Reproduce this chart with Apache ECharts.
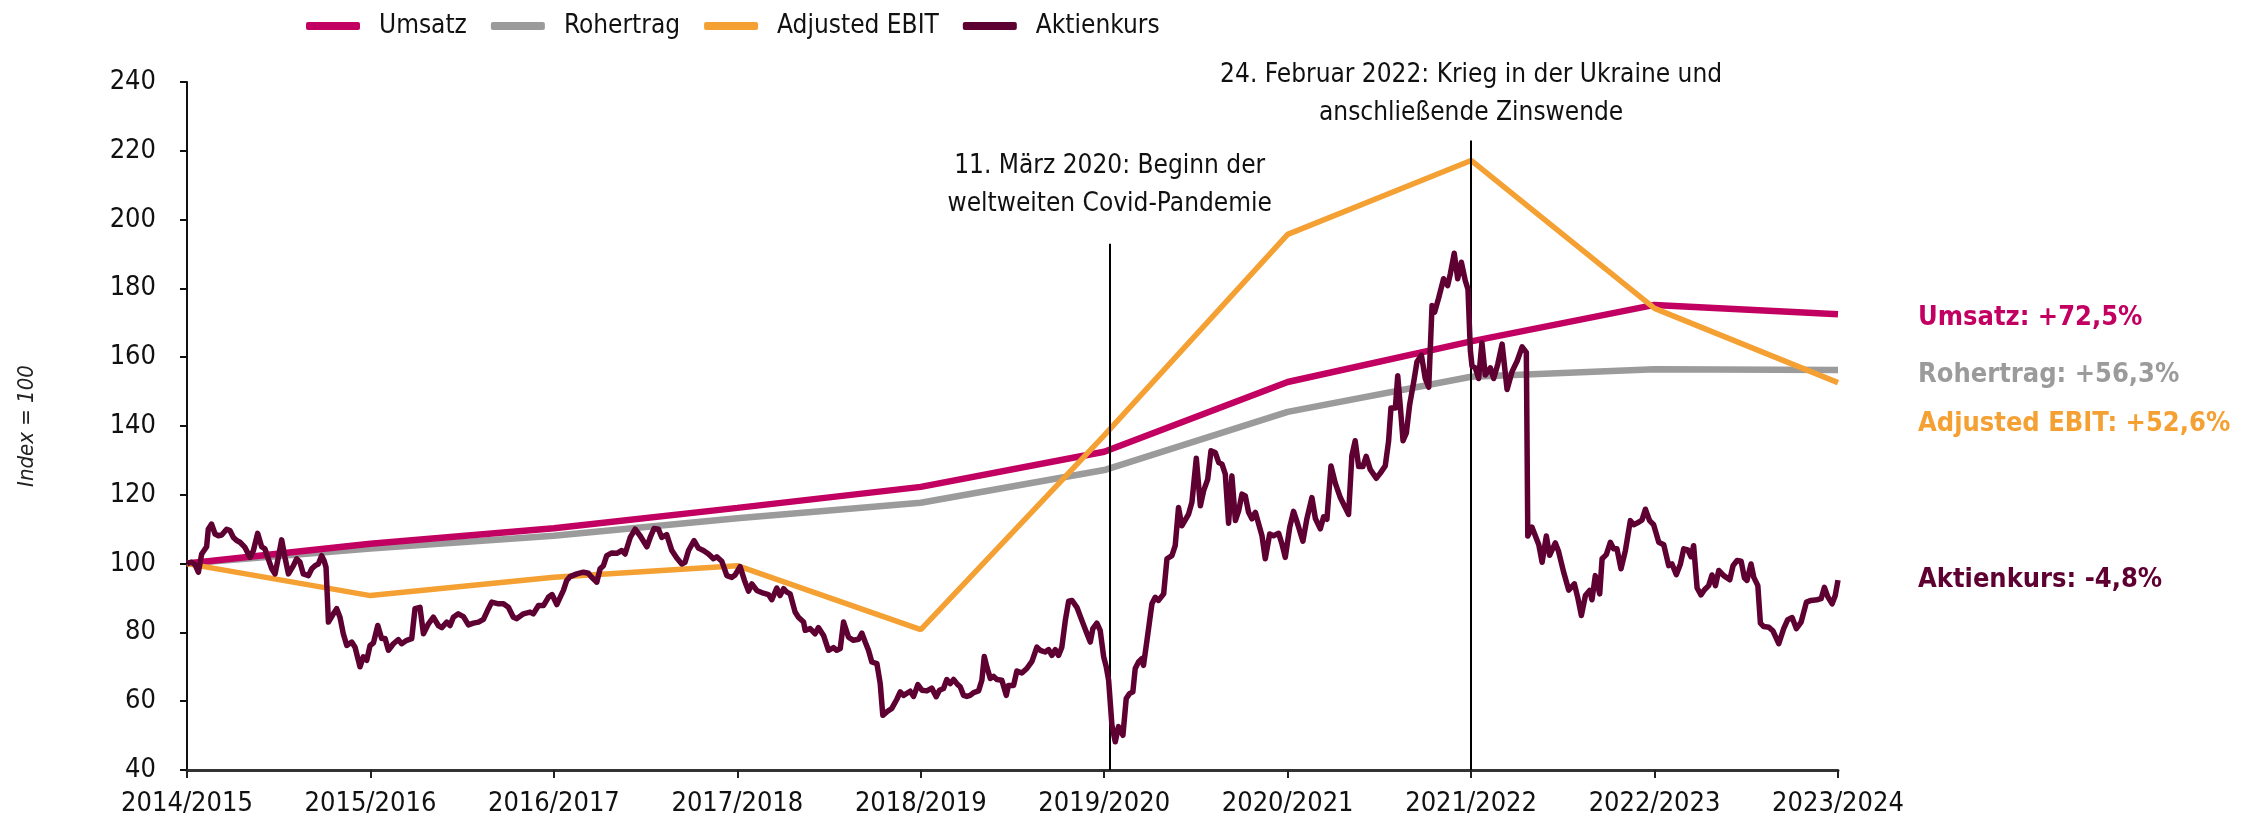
<!DOCTYPE html>
<html lang="de">
<head>
<meta charset="utf-8">
<title>Umsatz, Rohertrag, Adjusted EBIT und Aktienkurs</title>
<script src="https://cdn.jsdelivr.net/npm/echarts@6/dist/echarts.min.js"></script>
<style>
  html, body { margin: 0; padding: 0; background: #fff; }
  #chart { width: 2246px; height: 825px; }
</style>
</head>
<body>
<div id="chart"></div>
<script>
// Geschaeftsjahre (x = 0..9)
const jahre = ['2014/2015', '2015/2016', '2016/2017', '2017/2018', '2018/2019',
  '2019/2020', '2020/2021', '2021/2022', '2022/2023', '2023/2024']

// Index = 100 im GJ 2014/2015
const umsatz = [100, 105.8, 110.3, 116.2, 122.3, 132.5, 152.8, 164.6, 175.2, 172.5]
const rohertrag = [100, 104.4, 108.1, 113.2, 117.7, 127.2, 144.1, 154.3, 156.5, 156.3]
const adjEbit = [100, 90.7, 96.0, 99.4, 80.8, 137.3, 195.7, 217.2, 174.2, 152.6]

// Aktienkurs: [Jahr (Bruchteil), Index]
const aktienkurs = [
  [0, 100], [0.025, 100.4], [0.044, 99.7], [0.062, 97.5], [0.08, 102.8], [0.107, 104.9], [0.116, 110.0], [0.134, 111.5],
  [0.153, 108.6], [0.171, 108.1], [0.189, 108.3], [0.216, 110.0], [0.234, 109.6], [0.253, 107.6], [0.271, 106.7],
  [0.289, 106.2], [0.316, 104.7], [0.344, 101.8], [0.362, 103.8], [0.385, 108.8], [0.407, 104.9], [0.425, 104.3],
  [0.443, 101.4], [0.462, 98.5], [0.48, 97.0], [0.498, 101.8], [0.516, 106.9], [0.534, 101.8], [0.553, 97.0],
  [0.58, 99.4], [0.598, 101.4], [0.616, 100.4], [0.634, 97.0], [0.662, 96.5], [0.68, 98.5], [0.698, 99.4],
  [0.716, 99.9], [0.734, 102.3], [0.747, 100.9], [0.758, 98.9], [0.771, 83.0], [0.798, 85.4], [0.816, 86.9],
  [0.834, 84.4], [0.852, 79.6], [0.871, 76.2], [0.898, 77.2], [0.916, 75.7], [0.943, 70.0], [0.961, 72.9],
  [0.98, 71.9], [0.998, 76.2], [1.016, 76.9], [1.04, 82.0], [1.061, 78.2], [1.08, 78.2], [1.098, 74.8],
  [1.125, 76.7], [1.152, 77.9], [1.17, 76.7], [1.198, 77.7], [1.225, 78.2], [1.243, 86.9], [1.27, 87.3],
  [1.289, 79.6], [1.316, 82.5], [1.343, 84.4], [1.37, 82.0], [1.389, 81.4], [1.416, 83.0], [1.434, 82.0],
  [1.452, 84.4], [1.479, 85.4], [1.507, 84.6], [1.534, 82.2], [1.561, 82.7], [1.589, 83.0], [1.616, 83.8],
  [1.643, 86.9], [1.661, 88.8], [1.698, 88.3], [1.725, 88.3], [1.752, 87.3], [1.779, 84.4], [1.798, 84.0],
  [1.834, 85.4], [1.87, 85.9], [1.888, 85.4], [1.916, 87.8], [1.943, 87.8], [1.97, 90.2], [1.99, 91.0],
  [2.016, 88.1], [2.034, 90.2], [2.052, 92.2], [2.07, 95.1], [2.088, 96.2], [2.125, 97.0], [2.161, 97.5],
  [2.188, 97.2], [2.206, 96.0], [2.234, 94.6], [2.252, 98.5], [2.27, 99.4], [2.288, 102.3], [2.316, 103.1],
  [2.343, 103.0], [2.37, 103.8], [2.388, 102.8], [2.416, 107.6], [2.443, 110.0], [2.47, 108.1], [2.507, 104.9],
  [2.525, 107.6], [2.546, 110.2], [2.57, 110.0], [2.588, 107.6], [2.615, 108.4], [2.643, 103.8], [2.67, 101.6],
  [2.697, 99.9], [2.715, 100.4], [2.734, 103.8], [2.764, 106.7], [2.788, 104.5], [2.815, 103.8], [2.843, 102.8],
  [2.87, 101.4], [2.888, 102.0], [2.915, 100.7], [2.943, 96.5], [2.97, 96.0], [2.988, 96.7], [3.015, 99.1],
  [3.039, 95.1], [3.061, 92.0], [3.079, 94.1], [3.106, 92.2], [3.142, 91.4], [3.17, 91.0], [3.188, 89.5],
  [3.215, 92.9], [3.233, 90.7], [3.252, 92.7], [3.27, 91.7], [3.288, 91.2], [3.315, 85.9], [3.333, 84.4],
  [3.361, 83.0], [3.37, 80.6], [3.397, 81.1], [3.424, 79.6], [3.442, 81.4], [3.47, 79.1], [3.497, 74.8],
  [3.524, 75.6], [3.542, 74.8], [3.561, 75.3], [3.579, 83.0], [3.606, 78.6], [3.633, 77.7], [3.661, 78.0],
  [3.679, 79.8], [3.697, 77.2], [3.715, 74.8], [3.733, 71.4], [3.761, 70.9], [3.779, 65.1], [3.793, 55.9],
  [3.815, 56.9], [3.842, 57.9], [3.869, 60.5], [3.888, 62.7], [3.906, 61.7], [3.942, 62.9], [3.961, 61.4],
  [3.984, 64.8], [4.006, 63.2], [4.033, 63.0], [4.06, 63.8], [4.084, 61.3], [4.102, 63.2], [4.124, 63.7],
  [4.142, 66.3], [4.161, 65.1], [4.179, 66.3], [4.2, 64.9], [4.215, 64.2], [4.233, 61.7], [4.251, 61.4],
  [4.269, 61.7], [4.288, 62.5], [4.315, 63.0], [4.333, 66.1], [4.346, 73.0], [4.36, 70.0], [4.379, 66.6],
  [4.397, 67.2], [4.415, 66.3], [4.442, 66.1], [4.466, 61.7], [4.478, 64.6], [4.506, 64.6], [4.524, 68.8],
  [4.551, 68.2], [4.578, 69.5], [4.606, 71.6], [4.633, 75.7], [4.651, 74.8], [4.678, 74.3], [4.697, 75.0],
  [4.715, 73.3], [4.733, 75.0], [4.751, 73.3], [4.769, 75.7], [4.788, 83.5], [4.806, 89.1], [4.824, 89.3],
  [4.851, 87.3], [4.878, 83.5], [4.906, 79.6], [4.924, 77.2], [4.938, 81.1], [4.96, 82.7], [4.978, 80.6],
  [4.997, 72.9], [5.011, 70.0], [5.024, 66.1], [5.042, 53.0], [5.06, 48.2], [5.078, 52.6], [5.102, 50.1],
  [5.12, 60.8], [5.138, 62.2], [5.156, 62.7], [5.169, 69.5], [5.187, 71.4], [5.205, 72.4], [5.214, 70.4],
  [5.233, 77.7], [5.26, 88.3], [5.278, 90.2], [5.296, 89.3], [5.324, 91.2], [5.342, 101.4], [5.369, 102.3],
  [5.387, 105.2], [5.405, 116.3], [5.423, 111.0], [5.442, 112.7], [5.46, 114.4], [5.478, 117.8], [5.502, 130.6],
  [5.524, 116.8], [5.542, 121.2], [5.564, 124.5], [5.582, 132.8], [5.605, 132.3], [5.624, 129.4], [5.642, 128.9],
  [5.66, 126.0], [5.678, 111.7], [5.696, 125.5], [5.715, 112.5], [5.733, 115.4], [5.751, 120.2], [5.769, 119.7],
  [5.787, 114.9], [5.805, 113.0], [5.824, 114.9], [5.842, 111.5], [5.86, 108.1], [5.878, 101.4], [5.902, 108.6],
  [5.923, 108.1], [5.951, 108.8], [5.969, 105.7], [5.987, 101.8], [6.011, 110.5], [6.032, 115.2], [6.051, 112.1],
  [6.083, 106.5], [6.105, 113.1], [6.132, 119.2], [6.151, 113.1], [6.178, 110.1], [6.196, 113.6], [6.214, 112.9],
  [6.236, 128.4], [6.26, 123.3], [6.287, 119.2], [6.332, 114.3], [6.35, 131.4], [6.368, 135.7], [6.387, 128.2],
  [6.41, 128.2], [6.428, 131.2], [6.45, 127.4], [6.483, 124.8], [6.505, 126.3], [6.532, 128.4], [6.55, 135.5],
  [6.563, 145.2], [6.587, 145.2], [6.6, 154.6], [6.614, 145.7], [6.629, 135.7], [6.647, 138.0], [6.665, 146.2],
  [6.687, 152.8], [6.705, 158.7], [6.729, 160.6], [6.75, 153.8], [6.769, 151.3], [6.787, 175.0], [6.801, 173.1],
  [6.823, 177.2], [6.85, 182.8], [6.872, 180.8], [6.887, 184.3], [6.908, 190.2], [6.927, 182.8], [6.947, 187.6],
  [6.968, 182.3], [6.983, 179.7], [6.996, 161.9], [7.005, 157.4], [7.023, 156.9], [7.041, 153.8], [7.059, 164.2],
  [7.077, 154.8], [7.105, 156.9], [7.123, 153.8], [7.145, 157.9], [7.169, 163.8], [7.196, 150.6], [7.223, 155.8],
  [7.251, 158.9], [7.278, 163.0], [7.301, 161.4], [7.309, 108.0], [7.332, 110.6], [7.369, 105.5], [7.387, 100.4],
  [7.41, 108.0], [7.428, 102.4], [7.459, 106.0], [7.477, 103.5], [7.505, 97.4], [7.532, 92.3], [7.541, 92.0],
  [7.563, 94.1], [7.581, 90.2], [7.601, 84.9], [7.623, 90.7], [7.646, 92.2], [7.659, 89.5], [7.677, 96.5],
  [7.701, 91.2], [7.714, 101.4], [7.737, 102.6], [7.759, 106.2], [7.777, 104.3], [7.795, 104.3], [7.817, 98.5],
  [7.841, 103.8], [7.868, 112.5], [7.886, 111.3], [7.913, 112.0], [7.932, 112.7], [7.95, 115.8], [7.973, 112.5],
  [7.995, 111.3], [8.023, 106.2], [8.05, 105.5], [8.077, 99.4], [8.095, 99.9], [8.119, 96.8], [8.141, 99.9],
  [8.159, 104.3], [8.181, 104.0], [8.199, 102.0], [8.213, 105.2], [8.232, 92.9], [8.253, 90.9], [8.272, 92.4],
  [8.295, 93.6], [8.313, 96.7], [8.332, 93.6], [8.35, 98.0], [8.377, 96.5], [8.41, 95.3], [8.428, 99.4],
  [8.45, 100.9], [8.472, 100.7], [8.49, 95.8], [8.504, 95.1], [8.526, 99.9], [8.541, 96.0], [8.563, 93.6],
  [8.577, 82.7], [8.595, 81.7], [8.623, 81.5], [8.646, 80.4], [8.677, 76.7], [8.704, 81.1], [8.726, 83.7],
  [8.75, 84.3], [8.773, 81.1], [8.799, 83.0], [8.828, 88.8], [8.853, 89.3], [8.886, 89.5], [8.908, 89.8],
  [8.926, 93.1], [8.944, 90.4], [8.968, 88.3], [8.985, 90.7], [9, 95.2]
]

// Ereignisse: [Jahr, Oberkante der Linie, Text]
const covid = [5.03, 193, '11. März 2020: Beginn der\nweltweiten Covid-Pandemie']
const ukraine = [7.0, 223, '24. Februar 2022: Krieg in der Ukraine und\nanschließende Zinswende']

const farben = {
  umsatz: '#c20062',
  rohertrag: '#9b9b9b',
  ebit: '#f4a033',
  aktie: '#5f0032'
}
const schrift = "'DejaVu Sans Condensed', 'Liberation Sans Narrow', sans-serif"

// Veraenderung ggue. Basis 100, z.B. "+72,5%"
function veraenderung(wert) {
  const d = wert - 100
  return (d >= 0 ? '+' : '') + d.toFixed(1).replace('.', ',') + '%'
}

function endLabel(color, offsetY) {
  return {
    show: true,
    distance: 80,
    offset: [0, offsetY],
    color: color,
    fontFamily: schrift,
    fontWeight: 'bold',
    fontSize: 27,
    formatter: function(p) {
      const v = Array.isArray(p.value) ? p.value[1] : p.value
      return p.seriesName + ': ' + veraenderung(v)
    }
  }
}

function ereignis(e, distance) {
  return {
    silent: true,
    symbol: ['none', 'none'],
    lineStyle: { color: '#000', width: 2, type: 'solid' },
    label: {
      show: true,
      position: 'start',
      distance: distance,
      formatter: e[2],
      color: '#111',
      fontFamily: schrift,
      fontSize: 26,
      lineHeight: 38,
      align: 'center'
    },
    data: [[{ coord: [e[0], e[1]] }, { coord: [e[0], 40] }]]
  }
}

const chart = echarts.init(document.getElementById('chart'), null, { renderer: 'canvas' })

const option = {
  animation: false,
  backgroundColor: '#fff',
  textStyle: { fontFamily: schrift },
  grid: { left: 187, right: 408, top: 82, bottom: 55 },
  legend: {
    data: ['Umsatz', 'Rohertrag', 'Adjusted EBIT', 'Aktienkurs'],
    left: 301,
    top: 8,
    icon: 'roundRect',
    itemWidth: 54,
    itemHeight: 8,
    itemGap: 24,
    textStyle: { fontSize: 26, color: '#111', fontFamily: schrift, padding: [0, 0, 0, 14] }
  },
  xAxis: {
    type: 'value',
    min: 0,
    max: 9,
    interval: 1,
    splitLine: { show: false },
    axisLine: { lineStyle: { color: '#333', width: 3 } },
    axisTick: { show: true, length: 8, lineStyle: { color: '#222', width: 2 } },
    axisLabel: {
      margin: 20,
      fontSize: 27,
      color: '#111',
      fontFamily: schrift,
      formatter: function(v) { return jahre[v] }
    }
  },
  yAxis: {
    type: 'value',
    min: 40,
    max: 240,
    interval: 20,
    name: 'Index = 100',
    nameLocation: 'middle',
    nameRotate: 90,
    nameGap: 149,
    nameTextStyle: { fontSize: 22, fontStyle: 'italic', color: '#222', fontFamily: schrift },
    splitLine: { show: false },
    axisLine: { show: true, lineStyle: { color: '#111', width: 2 } },
    axisTick: { show: true, length: 7, lineStyle: { color: '#111', width: 2 } },
    axisLabel: { margin: 31, fontSize: 27, color: '#111', fontFamily: schrift }
  },
  series: [
    {
      name: 'Rohertrag',
      type: 'line',
      z: 2,
      symbol: 'none',
      color: farben.rohertrag,
      lineStyle: { width: 6.5, color: farben.rohertrag },
      endLabel: endLabel(farben.rohertrag, 5),
      data: jahre.map((j, i) => [i, rohertrag[i]])
    },
    {
      name: 'Umsatz',
      type: 'line',
      z: 3,
      symbol: 'none',
      color: farben.umsatz,
      lineStyle: { width: 6.5, color: farben.umsatz },
      endLabel: endLabel(farben.umsatz, 4),
      data: jahre.map((j, i) => [i, umsatz[i]])
    },
    {
      name: 'Adjusted EBIT',
      type: 'line',
      z: 4,
      symbol: 'none',
      color: farben.ebit,
      lineStyle: { width: 5.5, color: farben.ebit },
      endLabel: endLabel(farben.ebit, 41),
      data: jahre.map((j, i) => [i, adjEbit[i]])
    },
    {
      name: 'Aktienkurs',
      type: 'line',
      z: 5,
      symbol: 'none',
      color: farben.aktie,
      lineStyle: { width: 5.5, color: farben.aktie, join: 'round' },
      endLabel: endLabel(farben.aktie, 0),
      data: aktienkurs
    },
    // Ereignislinien oben drauf
    { name: 'covid', type: 'line', z: 10, data: [], markLine: ereignis(covid, 20) },
    { name: 'ukraine', type: 'line', z: 10, data: [], markLine: ereignis(ukraine, 8) }
  ]
}

chart.setOption(option)
window.addEventListener('resize', function() { chart.resize() })
</script>
</body>
</html>
